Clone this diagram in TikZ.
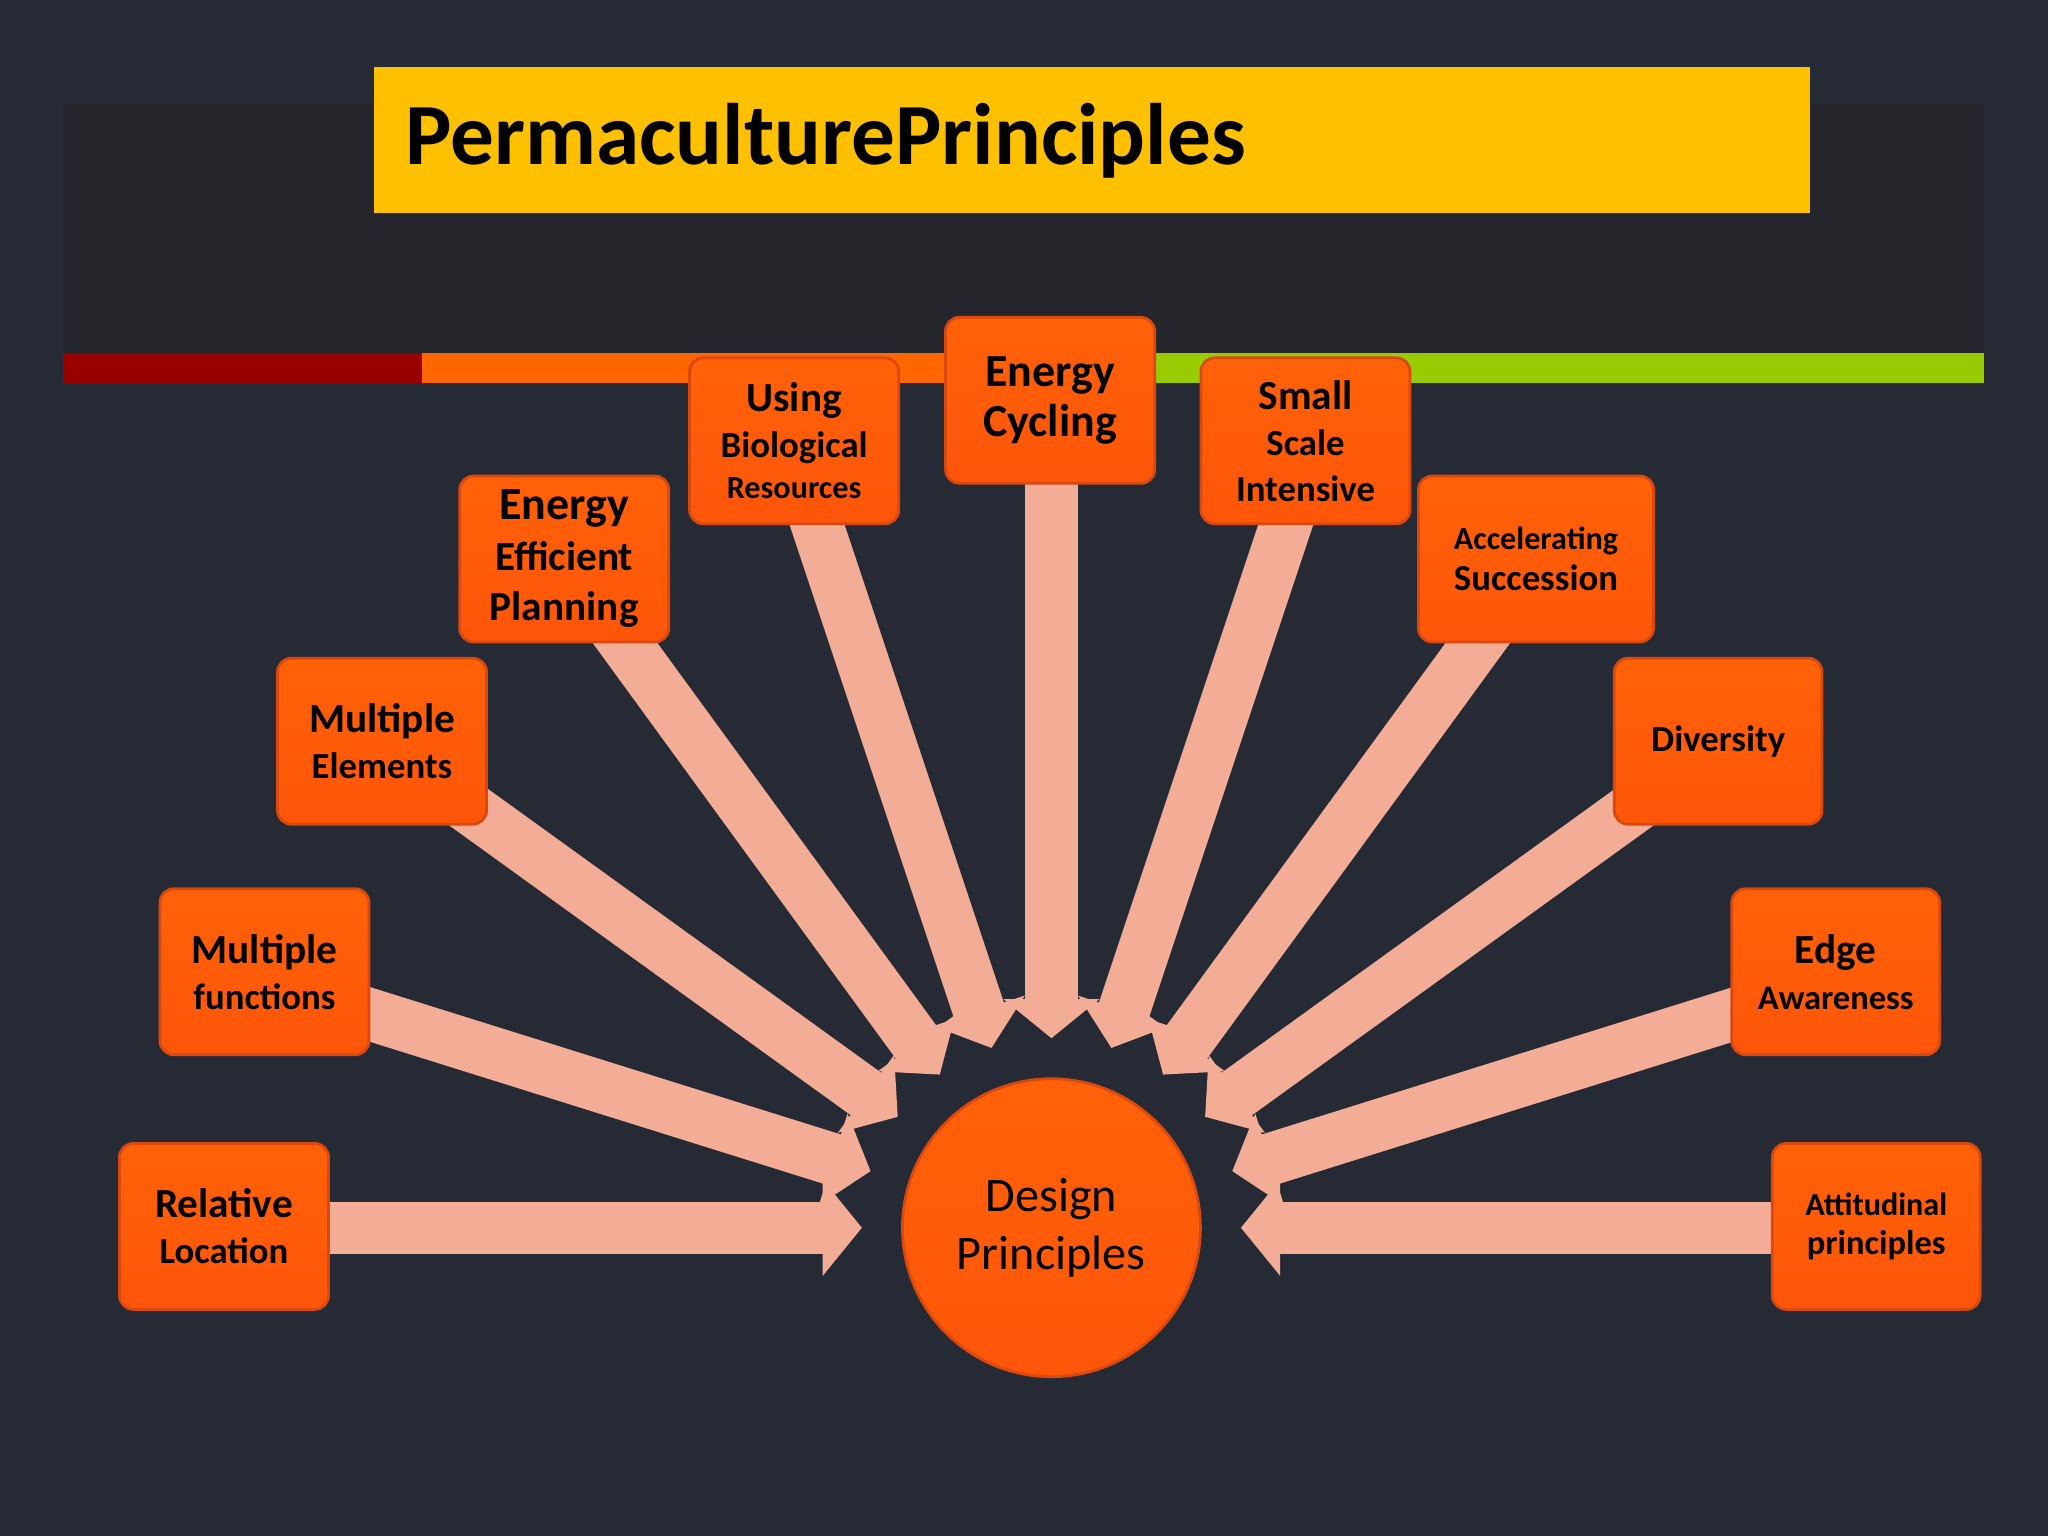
\documentclass[tikz,border=0pt]{standalone}
\usepackage{fontspec}
\setmainfont{Carlito}
\usetikzlibrary{calc,arrows.meta}
\definecolor{bg}{HTML}{262A35}
\definecolor{band}{HTML}{25262B}
\definecolor{ttl}{HTML}{FFC000}
\definecolor{bx}{HTML}{FF5A0A}
\definecolor{bxline}{HTML}{D9480F}
\definecolor{arr}{HTML}{F3AC96}
\definecolor{stred}{HTML}{990000}
\definecolor{storange}{HTML}{FF6600}
\definecolor{stgreen}{HTML}{99CC00}
\tikzset{
 pbox/.style={draw=bxline,line width=0.6pt,rounded corners=3pt,top color=bx!80!orange,bottom color=bx!95!red,
   minimum width=1.6cm,minimum height=1.27cm,align=center,font=\bfseries,text=black,inner sep=1pt},
 parr/.style={draw=arr,line width=0.4cm,-{Triangle[length=0.3cm,width=0.72cm]}},
}
\newcommand{\fs}[1]{\fontsize{#1}{#1}\selectfont}
\begin{document}
\begin{tikzpicture}[x=0.01cm,y=-0.01cm]
\fill[bg] (0,0) rectangle (1568,1176);
\useasboundingbox (0,0) rectangle (1568,1176);
\fill[band] (48,80) rectangle (1519,270);
\fill[ttl] (286,51) rectangle (1386,163);
\node[anchor=west,font=\bfseries\fs{19}] (title) at (298,108) {PermaculturePrinciples};
\fill[stred] (48,270) rectangle (323,293);
\fill[storange] (323,270) rectangle (724,293);
\fill[stgreen] (884,270) rectangle (1519,293);

\node[circle,minimum size=2.28cm,draw=bxline,line width=0.6pt,top color=bx!80!orange,bottom color=bx!95!red,align=center,font=\fs{10.5},inner sep=0pt] (c) at (805,940) {Design\\[2pt]Principles};

\coordinate (s1) at (170,940);
\coordinate (s2) at (230,760);
\coordinate (s3) at (320,590);
\coordinate (s4) at (455,460);
\coordinate (s5) at (615,370);
\coordinate (s6) at (805,340);
\coordinate (s7) at (995,370);
\coordinate (s8) at (1155,460);
\coordinate (s9) at (1290,590);
\coordinate (s10) at (1380,760);
\coordinate (s11) at (1440,940);
\foreach \i in {1,...,11} {
  \draw[parr] (s\i) -- ($(c)!1.45cm!(s\i)$);
}

\node[pbox,font=\bfseries\fs{9}] (rl) at (171.5,939) {Relative\\[1pt]{\fs{8}Location}};
\node[pbox,font=\bfseries\fs{9}] (mf) at (202.5,744) {Multiple\\[1pt]{\fs{8}functions}};
\node[pbox,font=\bfseries\fs{9}] (me) at (292.5,567.5) {Multiple\\[1pt]{\fs{8}Elements}};
\node[pbox,font=\bfseries\fs{10}] (eep) at (432,428) {Energy\\[1pt]{\fs{9}Efficient}\\[1pt]{\fs{9}Planning}};
\node[pbox,font=\bfseries\fs{9}] (ubr) at (608,337.5) {Using\\[1pt]{\fs{8}Biological}\\{\fs{7}Resources}};
\node[pbox,font=\bfseries\fs{10}] (ec) at (804,306.5) {Energy\\[1pt]Cycling};
\node[pbox,font=\bfseries\fs{9}] (ssi) at (999.5,337.5) {Small\\[1pt]{\fs{8}Scale}\\[1pt]{\fs{8}Intensive}};
\node[pbox,minimum width=1.8cm,font=\bfseries\fs{8}] (as) at (1176,428) {{\fs{7}Accelerating}\\[1pt]Succession};
\node[pbox,minimum width=1.59cm,font=\bfseries\fs{8}] (dv) at (1315.5,567.5) {Diversity};
\node[pbox,minimum width=1.59cm,font=\bfseries\fs{9}] (ea) at (1405.5,744) {Edge\\[1pt]{\fs{7.5}Awareness}};
\node[pbox,minimum width=1.59cm,font=\bfseries\fs{7.5}] (ap) at (1436.5,939) {{\fs{7}Attitudinal}\\[1pt]principles};
\end{tikzpicture}
\end{document}
